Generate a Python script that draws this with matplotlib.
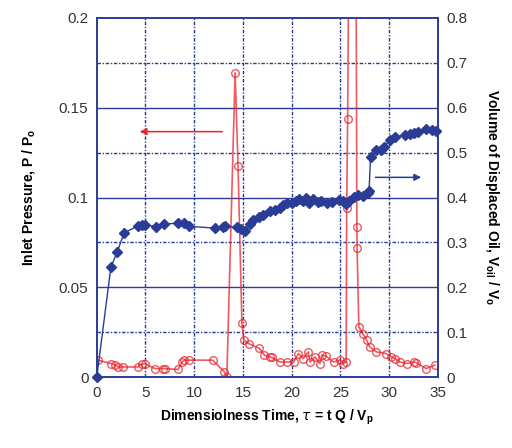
import matplotlib
matplotlib.use("Agg")
import matplotlib.pyplot as plt

plt.rcParams['font.family'] = ['Liberation Sans', 'DejaVu Sans']

# displaced oil volume (right axis)
t_oil = [0, 1.45, 2.1, 2.8, 4.2, 4.6, 4.9, 6.1, 6.9, 8.35, 9.0, 9.5, 12.1, 13.0,
         13.2, 14.4, 14.85, 15.2, 15.7, 16.0, 16.7, 17.1, 17.8, 18.3, 18.8, 19.1,
         19.5, 20.0, 20.4, 20.8, 21.2, 21.5, 21.8, 22.2, 22.7, 23.0, 23.6, 24.1,
         24.9, 25.3, 25.6, 25.9, 26.4, 26.8, 27.3, 27.8, 27.95, 28.1, 28.7, 29.2,
         29.5, 30.1, 30.6, 31.6, 32.1, 32.6, 33.0, 33.8, 34.4, 34.8]
v_oil = [0, 0.245, 0.279, 0.321, 0.337, 0.339, 0.340, 0.335, 0.341, 0.343, 0.343,
         0.336, 0.332, 0.334, 0.336, 0.334, 0.329, 0.326, 0.342, 0.350, 0.357,
         0.362, 0.369, 0.372, 0.377, 0.383, 0.389, 0.387, 0.393, 0.397, 0.392,
         0.398, 0.389, 0.396, 0.391, 0.393, 0.387, 0.391, 0.394, 0.393, 0.386,
         0.392, 0.401, 0.406, 0.403, 0.410, 0.415, 0.491, 0.505, 0.507, 0.513,
         0.528, 0.535, 0.539, 0.541, 0.543, 0.546, 0.553, 0.550, 0.549]

# inlet pressure (left axis)
t_p = [0.1, 1.5, 1.85, 2.2, 2.7, 4.2, 4.6, 4.9, 5.95, 6.8, 7.0, 8.35, 8.75, 9.0,
       9.5, 11.9, 13.1, 13.35, 14.2, 14.5, 14.9, 15.1, 15.6, 16.7, 17.2, 17.8,
       17.95, 18.8, 19.5, 20.2, 20.7, 21.2, 21.7, 21.9, 22.4, 22.9, 23.1, 23.5,
       24.3, 24.95, 25.3, 25.6, 25.65, 25.75, 25.9, 26.6, 26.7, 26.72, 26.9,
       27.3, 27.7, 28.0, 28.7, 29.7, 30.2, 30.6, 31.1, 31.8, 32.6, 32.8, 33.8,
       34.7]
p_in = [0.0095, 0.0076, 0.0069, 0.0057, 0.0057, 0.0057, 0.0072, 0.0076, 0.0048,
        0.0048, 0.0048, 0.0043, 0.0085, 0.0095, 0.0095, 0.0095, 0.003, 0.0,
        0.1695, 0.1175, 0.030, 0.0206, 0.0187, 0.016, 0.0123, 0.0113, 0.0110,
        0.0085, 0.0085, 0.0085, 0.0132, 0.0104, 0.0141, 0.0085, 0.0113, 0.0076,
        0.0123, 0.0118, 0.0085, 0.0095, 0.0076, 0.0085, 0.094, 0.1437, 0.26,
        0.26, 0.0834, 0.0717, 0.028, 0.0243, 0.0206, 0.0169, 0.0141, 0.0132,
        0.0113, 0.0104, 0.0085, 0.0076, 0.0085, 0.008, 0.0048, 0.0067]

blue = '#2a3c96'
red = '#e8242c'
dashdot = (0, (2.5, 1.2, 1, 1.2))

fig = plt.figure(figsize=(5.12, 4.48), dpi=100)
ax = fig.add_axes([0.189, 0.158, 0.666, 0.802])
ax2 = ax.twinx()

ax.set_xlim(0, 35)
ax.set_ylim(0, 0.2)
ax2.set_ylim(0, 0.8)
ax.set_xticks(range(0, 36, 5))
ax.set_yticks([0, 0.05, 0.1, 0.15, 0.2])
ax.set_yticklabels(['0', '0.05', '0.1', '0.15', '0.2'])
ax2.set_yticks([i / 10 for i in range(9)])
ax2.set_yticklabels(['0'] + ['%.1f' % (i / 10) for i in range(1, 9)])

# grid: solid at majors, dash-dot between
for y in [0.05, 0.1, 0.15]:
    ax.axhline(y, color=blue, lw=1.0, zorder=1)
for y in [0.025, 0.075, 0.125, 0.175]:
    ax.axhline(y, color=blue, lw=1.0, ls=dashdot, zorder=1)
for x in range(5, 35, 5):
    ax.axvline(x, color=blue, lw=1.0, ls=dashdot, zorder=1)

ax.plot(t_p, p_in, color=red, lw=1.2, alpha=0.75, marker='o', ms=5.5,
        mfc='none', mec=red, mew=1.0, zorder=3, clip_on=True)
ax2.plot(t_oil, v_oil, color=blue, lw=1.0, marker='D', ms=4.6,
         mfc=blue, mec=blue, zorder=4, clip_on=False)

ax.annotate('', xy=(4.4, 0.1367), xytext=(12.9, 0.1367),
            arrowprops=dict(arrowstyle='-|>', color=red, lw=1.1,
                            mutation_scale=10, shrinkA=0, shrinkB=0))
ax2.annotate('', xy=(33.3, 0.445), xytext=(28.6, 0.445),
             arrowprops=dict(arrowstyle='-|>', color=blue, lw=1.1,
                             mutation_scale=10, shrinkA=0, shrinkB=0))

for a in (ax, ax2):
    for s in a.spines.values():
        s.set_color(blue)
        s.set_linewidth(1.2)
    a.tick_params(length=0, labelsize=11, labelcolor='#333333', pad=6)

ax.set_xlabel('Dimensiolness Time, $\\tau$ = t Q / V$_\\mathregular{p}$',
              fontsize=10, fontweight='bold', labelpad=6)
ax.set_ylabel('Inlet Pressure, P / P$_\\mathregular{o}$',
              fontsize=10, fontweight='bold', labelpad=16)
ax2.set_ylabel('Volume of Displaced Oil, V$_\\mathregular{oil}$ / V$_\\mathregular{o}$',
               fontsize=10, fontweight='bold', rotation=270, labelpad=24)

fig.savefig('out.png', dpi=100)
